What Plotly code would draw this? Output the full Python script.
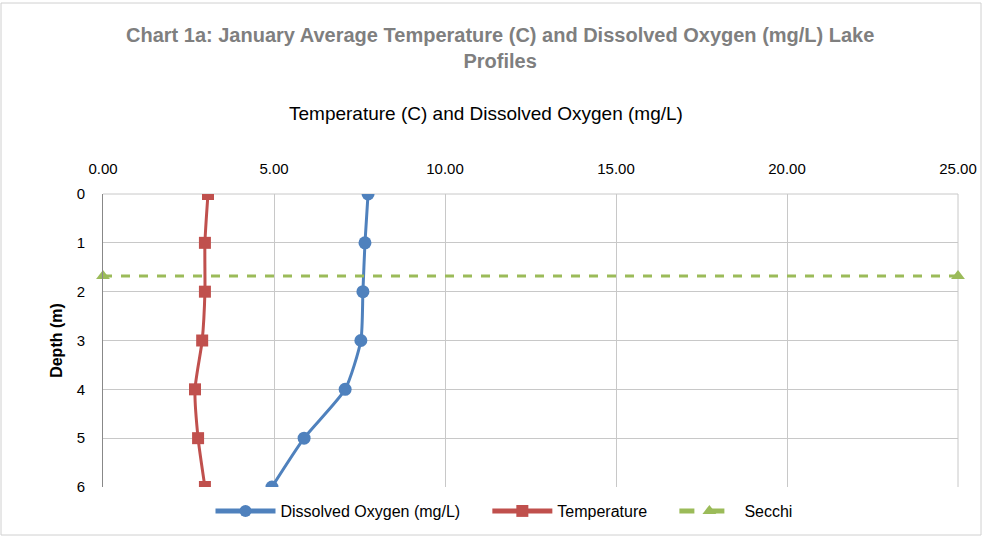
import plotly.graph_objects as go

depth = [0, 1, 2, 3, 4, 5, 6]
dissolved_oxygen = [7.75, 7.66, 7.60, 7.54, 7.08, 5.88, 4.94]
temperature = [3.07, 2.98, 2.98, 2.90, 2.69, 2.78, 2.98]
secchi_x = [0, 25]
secchi_depth = [1.68, 1.68]
x_ticks = [0, 5, 10, 15, 20, 25]

FONT = "Liberation Sans, Arial"
PAD = "\u00a0" * 5

L, R, T, B = 103, 958, 194, 487
W, H = 984, 537
pw, ph = R - L, B - T


def px(x):
    return (x - L) / pw


def py(y):
    return (B - y) / ph


fig = go.Figure()
fig.add_trace(go.Scatter(
    x=dissolved_oxygen, y=depth, name="Dissolved Oxygen (mg/L)" + PAD,
    mode="lines+markers", line=dict(color="#4f81bd", width=3, shape="spline", smoothing=0.6),
    marker=dict(symbol="circle", size=13, color="#4f81bd"),
))
fig.add_trace(go.Scatter(
    x=temperature, y=depth, name="Temperature" + PAD,
    mode="lines+markers", line=dict(color="#c0504d", width=3, shape="spline", smoothing=0.6),
    marker=dict(symbol="square", size=12, color="#c0504d"),
))
fig.add_trace(go.Scatter(
    x=secchi_x, y=secchi_depth, name="Secchi",
    mode="lines+markers", line=dict(color="#9bbb59", width=3, dash="dash"),
    marker=dict(symbol="triangle-up", size=12, color="#9bbb59"),
    cliponaxis=False,
))

fig.update_layout(
    width=W, height=H,
    margin=dict(l=L, r=W - R, t=T, b=H - B, autoexpand=False),
    paper_bgcolor="white", plot_bgcolor="white",
    font=dict(family=FONT, size=15, color="#000000"),
    showlegend=True,
    legend=dict(orientation="h", x=px(504), xanchor="center", y=py(494), yanchor="top",
                font=dict(size=16, color="#000000"), bgcolor="rgba(0,0,0,0)",
                itemwidth=60, itemsizing="constant", tracegroupgap=0),
    xaxis=dict(side="top", range=[0, 25], tickvals=x_ticks,
               ticktext=[f"{v:.2f}" for v in x_ticks], showgrid=True, gridcolor="#c8c8c8",
               gridwidth=1, zeroline=False, showline=False, ticks="", ticklen=0,
               ticklabelstandoff=16, tickfont=dict(size=15), fixedrange=True, automargin=False),
    yaxis=dict(range=[6, 0], tickvals=depth, showgrid=True, gridcolor="#c8c8c8",
               zeroline=False, showline=True, linecolor="#888888", linewidth=1,
               ticks="", tickfont=dict(size=15), fixedrange=True, ticklabelstandoff=14,
               automargin=False,
               title=dict(text="<b>Depth (m)</b>", font=dict(size=16), standoff=10)),
    annotations=[
        dict(text="<b>Chart 1a: January Average Temperature (C) and Dissolved Oxygen (mg/L) Lake<br>Profiles</b>",
             x=px(500), y=py(48), xref="paper", yref="paper", xanchor="center", yanchor="middle",
             showarrow=False, font=dict(size=20, color="#7f7f7f", family=FONT), align="center"),
        dict(text="Temperature (C) and Dissolved Oxygen (mg/L)",
             x=px(486), y=py(113), xref="paper", yref="paper", xanchor="center", yanchor="middle",
             showarrow=False, font=dict(size=19, color="#000000", family=FONT)),
    ],
    shapes=[
        dict(type="rect", xref="paper", yref="paper", x0=px(1), x1=px(981), y0=py(535), y1=py(3),
             line=dict(color="#d0d0d0", width=1), layer="below"),
        dict(type="line", xref="paper", yref="paper", x0=1, x1=1, y0=0, y1=1,
             line=dict(color="#c8c8c8", width=1), layer="below"),
        dict(type="line", xref="paper", yref="paper", x0=0, x1=1, y0=1, y1=1,
             line=dict(color="#c8c8c8", width=1), layer="below"),
    ],
)

fig.write_html("out.html", config={"displayModeBar": False},
               post_script="document.body.style.margin='0';document.body.style.padding='0';")
